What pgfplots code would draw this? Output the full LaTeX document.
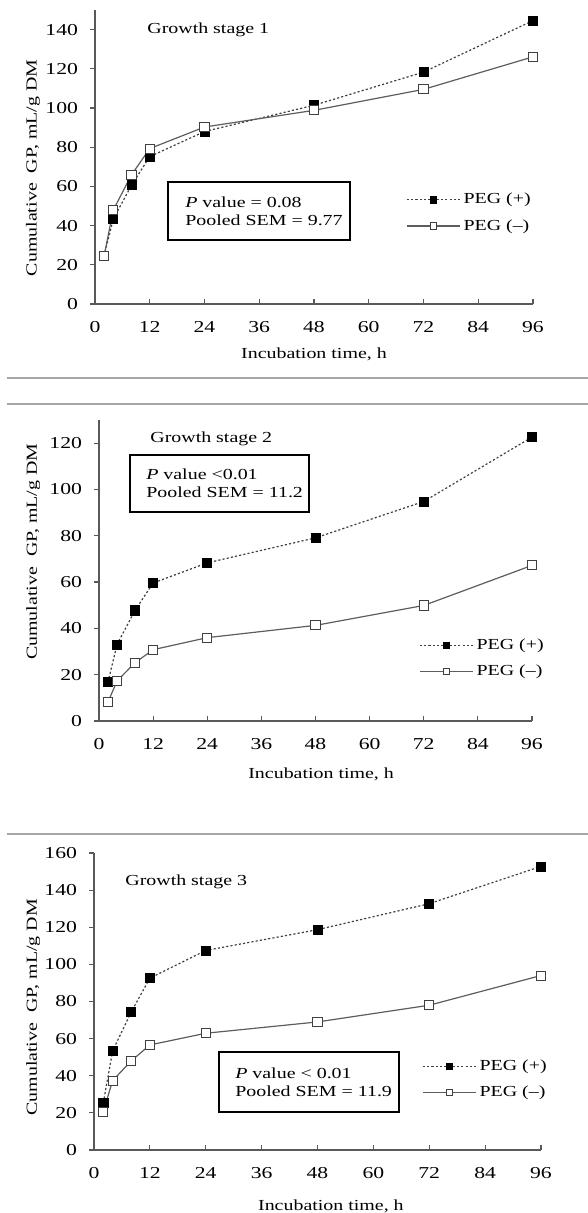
\documentclass[border=0pt]{standalone}
\usepackage{fontspec}
\setmainfont{Liberation Serif}[FakeStretch=1.3]
\usepackage{pgfplots}
\pgfplotsset{compat=1.18}

\definecolor{axisgray}{HTML}{595959}
\definecolor{linegray}{HTML}{404040}
\definecolor{sepgray}{HTML}{A6A6A6}

\pgfplotsset{
  gp/.style={
    scale only axis,
    axis lines=left,
    axis line style={-, draw=axisgray, line width=1pt},
    anchor=south west,
    clip=false,
    xmin=0, xmax=96, ymin=0,
    xtick={0,12,...,96},
    tick align=outside,
    major tick length=3.75pt,
    every tick/.style={draw=axisgray, line width=0.9pt},
    x tick style={yshift=3.75pt},
    /pgf/number format/assume math mode=true,
    ticklabel style={text=black, font=\fontsize{12.5}{14}\selectfont},
    yticklabel style={xshift=-5pt},
    xticklabel style={yshift=-5pt},
    ylabel style={anchor=center},
    xlabel style={anchor=center},
    legend style={draw=none, fill=none, anchor=west, row sep=6pt,
      cells={anchor=west}},
    legend image code/.code={
      \draw[mark repeat=2, mark phase=2, #1]
        plot coordinates {(0pt,0pt) (20pt,0pt) (40pt,0pt)};},
  },
  pegp/.style={linegray, line width=0.9pt, dash pattern=on 1.6pt off 1.6pt,
    mark=square*, mark size=3.4pt,
    mark options={solid, fill=black, draw=black, line width=0.5pt}},
  pegm/.style={linegray!85, line width=0.9pt,
    mark=square*, mark size=3.4pt,
    mark options={solid, fill=white, draw=linegray, line width=0.7pt}},
  pegpleg/.style={pegp, mark size=2.4pt},
  pegmleg/.style={pegm, mark size=2.4pt},
}
\tikzset{statbox/.style={draw=black, line width=0.9pt},
  stattext/.style={anchor=west, align=left, inner sep=0pt}}

\begin{document}
\fontsize{11.5}{13.5}\selectfont
\begin{tikzpicture}
\useasboundingbox (0,0) rectangle (441pt,-909.75pt);

% separators
\draw[sepgray, line width=1.2pt] (5.25pt,-283.5pt) -- (441pt,-283.5pt);
\draw[sepgray, line width=1.2pt] (5.25pt,-303pt) -- (441pt,-303pt);
\draw[sepgray, line width=1.2pt] (5.25pt,-625.5pt) -- (441pt,-625.5pt);

% ---- growth stage 1
\begin{axis}[gp, at={(71.25pt,-228pt)}, width=328.5pt, height=220.5pt,
  ymax=150, ytick={0,20,...,140},
  xlabel={Incubation time, h},
  xlabel style={at={(axis description cs:0.5,0)}, yshift=-37.5pt},
  ylabel={Cumulative~ GP, mL/g DM},
  ylabel style={at={(axis description cs:-0.1416,0.463)}},
  legend style={at={(axis description cs:0.701,0.31)}}]
\addplot[pegp, forget plot] coordinates {
  (2,24.6) (4,43.3) (8,60.6) (12,75.2) (24,88.0) (48,101.4) (72,118.3) (96,144.6)};
\addplot[pegm, forget plot] coordinates {
  (2,24.6) (4,47.9) (8,65.9) (12,79.3) (24,90.3) (48,98.8) (72,109.5) (96,126.1)};
\addlegendimage{pegpleg}
\addlegendentry{PEG (+)}
\addlegendimage{pegmleg}
\addlegendentry{PEG (–)}
\end{axis}
\node[anchor=base west] at (106.5pt,-25.5pt) {Growth stage 1};
\draw[statbox] (126pt,-136.5pt) rectangle (262.5pt,-180pt);
\node[stattext] at (138.75pt,-158.25pt) {\textit{P} value = 0.08\\Pooled SEM = 9.77};

% ---- growth stage 2
\begin{axis}[gp, at={(74.25pt,-540.75pt)}, width=324.75pt, height=225.75pt,
  ymax=130, ytick={0,20,...,120},
  xlabel={Incubation time, h},
  xlabel style={at={(axis description cs:0.513,0)}, yshift=-39.75pt},
  ylabel={Cumulative~ GP, mL/g DM},
  ylabel style={at={(axis description cs:-0.152,0.5625)}},
  legend style={at={(axis description cs:0.730,0.2076)}}]
\addplot[pegp, forget plot] coordinates {
  (2,16.8) (4,33.1) (8,47.8) (12,59.6) (24,68.3) (48,79.1) (72,94.8) (96,122.6)};
\addplot[pegm, forget plot] coordinates {
  (2,8.2) (4,17.3) (8,25.2) (12,30.8) (24,36.0) (48,41.3) (72,49.9) (96,67.2)};
\addlegendimage{pegpleg}
\addlegendentry{PEG (+)}
\addlegendimage{pegmleg}
\addlegendentry{PEG (–)}
\end{axis}
\node[anchor=base west] at (108.75pt,-331.5pt) {Growth stage 2};
\draw[statbox] (97.5pt,-341.25pt) rectangle (231.75pt,-384pt);
\node[stattext] at (109.5pt,-362.6pt) {\textit{P} value <0.01\\Pooled SEM = 11.2};

% ---- growth stage 3
\begin{axis}[gp, at={(70.5pt,-862.5pt)}, width=335.25pt, height=222.75pt,
  ymax=160, ytick={0,20,...,160},
  xlabel={Incubation time, h},
  xlabel style={at={(axis description cs:0.53,0)}, yshift=-42pt},
  ylabel={Cumulative~ GP, mL/g DM},
  ylabel style={at={(axis description cs:-0.136,0.48)}},
  legend style={at={(axis description cs:0.725,0.237)}}]
\addplot[pegp, forget plot] coordinates {
  (2,25.5) (4,53.4) (8,74.4) (12,92.6) (24,107.5) (48,118.7) (72,132.7) (96,152.8)};
\addplot[pegm, forget plot] coordinates {
  (2,20.7) (4,37.4) (8,48.0) (12,56.6) (24,62.9) (48,69.0) (72,78.0) (96,94.0)};
\addlegendimage{pegpleg}
\addlegendentry{PEG (+)}
\addlegendimage{pegmleg}
\addlegendentry{PEG (–)}
\end{axis}
\node[anchor=base west] at (90pt,-663.75pt) {Growth stage 3};
\draw[statbox] (164.25pt,-789pt) rectangle (299.25pt,-834pt);
\node[stattext] at (176.25pt,-811.5pt) {\textit{P} value < 0.01\\Pooled SEM = 11.9};
\end{tikzpicture}
\end{document}
